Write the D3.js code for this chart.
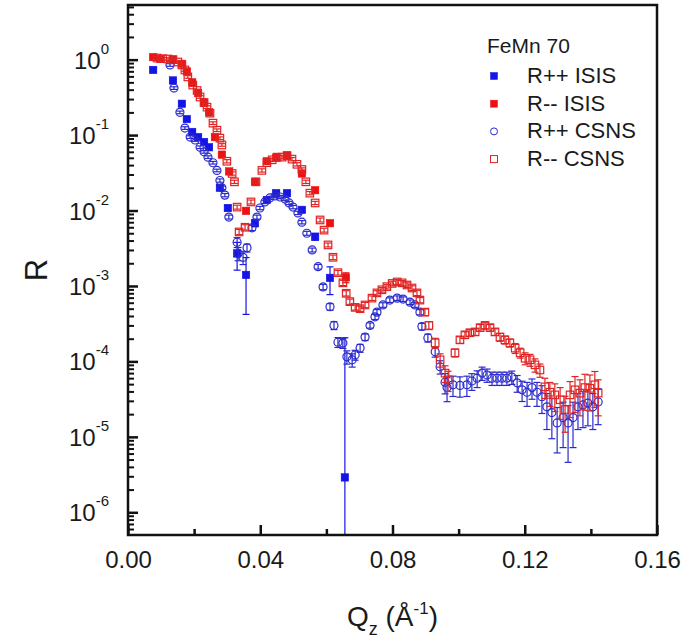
<!DOCTYPE html>
<html>
<head>
<meta charset="utf-8">
<script src="https://cdn.jsdelivr.net/npm/d3@7"></script>
<style>
  html, body { margin: 0; padding: 0; background: #fff; }
  svg text { font-family: "Liberation Sans", Arial, sans-serif; fill: #1a1a1a; }
</style>
</head>
<body>
<svg id="chart" width="694" height="641"></svg>
<script>
// axis limits and ticks
const xLimits = [0, 0.16];
const yLimits = [5.0e-7, 5.3];
const xMajorTicks = [0, 0.04, 0.08, 0.12, 0.16];
const xMinorTicks = [0.02, 0.06, 0.10, 0.14];
const yTickExponents = [0, -1, -2, -3, -4, -5, -6];

const legendTitle = 'FeMn 70';
const seriesNames = ['R++ ISIS', 'R-- ISIS', 'R++ CSNS', 'R-- CSNS'];

// [Qz, R, relative error]
const rppIsis = [
  [.0076,.73,.05],[.0136,.53,.04],[.0163,.26,.04],[.0178,.163,.04],[.0194,.11,.04],[.0212,.094,.04],
  [.0230,.081,.04],[.0245,.069,.05],[.0278,.020,.06],[.0302,.0108,.08],[.0330,.0027,.4],[.0357,.0014,.7],
  [.0384,.0068,.1],[.0420,.0138,.06],[.0448,.017,.05],[.0481,.017,.05],[.0526,.0102,.06],[.0566,.0045,.1],
  [.0611,.00128,.4],[.0656,.0000029,70]
];

const rmmIsis = [
  [.0076,1.08,.04],[.0097,1.02,.04],[.0136,1.0,.04],[.0163,.88,.04],[.0178,.70,.04],[.0194,.50,.04],
  [.0212,.36,.04],[.0230,.27,.04],[.0245,.20,.04],[.0263,.094,.04],[.0284,.055,.05],[.0306,.033,.05],
  [.0357,.0099,.08],[.0384,.024,.06],[.0420,.045,.05],[.0448,.050,.05],[.0481,.054,.05],[.0526,.031,.05],
  [.0566,.0186,.06],[.0611,.0068,.08],[.0659,.0013,.15]
];

const rppCsns = [
  [.0127,.85,.04],[.0139,.42,.04],[.0157,.20,.04],[.0172,.124,.04],[.0188,.094,.04],[.0203,.086,.04],
  [.0218,.069,.04],[.0230,.060,.04],[.0242,.051,.04],[.0257,.043,.04],[.0269,.034,.04],[.0278,.025,.05],
  [.0284,.020,.05],[.0293,.016,.05],[.0305,.0082,.06],[.0330,.0038,.15],[.0333,.0027,.2],[.0348,.0024,.2],
  [.0360,.0032,.12],[.0375,.0059,.08],[.0390,.0082,.06],[.0399,.0108,.05],[.0414,.013,.05],[.0429,.0147,.05],
  [.0445,.0156,.05],[.0460,.0151,.05],[.0475,.0142,.05],[.0487,.0126,.05],[.0499,.0111,.05],[.0514,.0093,.05],
  [.0526,.0070,.05],[.0541,.0050,.06],[.0557,.0030,.06],[.0575,.0018,.07],[.0590,.00097,.08],[.0611,.00053,.1],
  [.0623,.00030,.12],[.0635,.00018,.15],[.0650,.000175,.15],[.0662,.000115,.2],[.0678,.000105,.2],[.0687,.000122,.15],
  [.0702,.00015,.12],[.0717,.00021,.1],[.0732,.00030,.08],[.0747,.00039,.08],[.0753,.00045,.08],[.0771,.00056,.07],
  [.0792,.00065,.07],[.0814,.00069,.07],[.0832,.00067,.07],[.0853,.00061,.07],[.0868,.00056,.07],[.0883,.00045,.08],
  [.0889,.00029,.1],[.0907,.000205,.12],[.0929,.000134,.15],[.0944,.000085,.2],[.0959,.000053,.3],[.0965,.000045,.35],
  [.0983,.000049,.3],[.1004,.000048,.3],[.1025,.000049,.3],[.1040,.000055,.25],[.1056,.000060,.25],[.1071,.000070,.2],
  [.1086,.000066,.2],[.1101,.000060,.2],[.1116,.000060,.2],[.1131,.000060,.2],[.1146,.000060,.2],[.1161,.000062,.2],
  [.1177,.000052,.25],[.1192,.000042,.3],[.1207,.000039,.35],[.1222,.000045,.3],[.1237,.000039,.35],[.1252,.000034,.4],
  [.1267,.000025,.5],[.1282,.000021,.55],[.1298,.0000153,.6],[.1316,.000018,.6],[.1331,.0000153,.7],[.1346,.000018,.6],
  [.1361,.000025,.5],[.1376,.0000265,.5],[.1391,.000028,.5],[.1406,.000025,.5],[.1422,.000029,.5]
];

const rmmCsns = [
  [.0088,1.05,.04],[.0105,1.03,.04],[.0121,1.02,.04],[.0136,1.0,.04],[.0151,.93,.04],[.0163,.85,.04],
  [.0172,.73,.04],[.0181,.59,.04],[.0196,.46,.04],[.0209,.39,.04],[.0218,.32,.04],[.0230,.27,.04],
  [.0239,.235,.04],[.0248,.195,.04],[.0257,.144,.04],[.0269,.116,.04],[.0278,.091,.04],[.0284,.074,.04],
  [.0299,.045,.05],[.0315,.031,.05],[.0322,.024,.05],[.0330,.0111,.06],[.0336,.0052,.08],[.0354,.0060,.08],
  [.0372,.013,.06],[.0387,.024,.05],[.0405,.034,.05],[.0420,.043,.05],[.0436,.047,.05],[.0451,.051,.05],
  [.0466,.051,.05],[.0481,.053,.05],[.0496,.048,.05],[.0511,.041,.05],[.0526,.035,.05],[.0538,.024,.05],
  [.0550,.017,.05],[.0566,.0126,.05],[.0581,.0075,.06],[.0593,.0055,.06],[.0605,.0035,.06],[.0620,.0024,.07],
  [.0635,.0015,.07],[.0650,.0011,.08],[.0660,.0008,.08],[.0671,.00062,.08],[.0687,.00052,.08],[.0702,.00050,.08],
  [.0717,.00056,.08],[.0738,.00069,.07],[.0753,.00081,.07],[.0768,.00089,.07],[.0783,.00098,.07],[.0799,.00108,.07],
  [.0814,.00113,.07],[.0829,.00110,.07],[.0844,.00103,.07],[.0859,.00094,.07],[.0874,.00081,.08],[.0883,.00065,.08],
  [.0898,.00045,.1],[.0910,.00030,.12],[.0929,.000176,.15],[.0944,.000105,.2],[.0959,.000070,.25],[.0968,.000057,.3],
  [.0989,.00013,.12],[.1004,.000193,.1],[.1019,.000225,.1],[.1034,.00024,.1],[.1050,.000246,.1],[.1065,.00028,.1],
  [.1080,.00030,.1],[.1095,.00028,.1],[.1110,.000246,.1],[.1125,.00021,.12],[.1140,.000193,.12],[.1155,.000176,.12],
  [.1171,.00015,.15],[.1186,.00013,.15],[.1201,.00011,.18],[.1216,.000105,.18],[.1231,.00009,.2],[.1246,.000077,.2],
  [.1261,.000046,.3],[.1276,.000039,.35],[.1291,.000036,.4],[.1307,.000031,.45],[.1322,.000023,.5],[.1337,.000036,.5],
  [.1352,.000042,.5],[.1367,.000038,.5],[.1382,.000045,.5],[.1397,.000044,.5],[.1412,.000049,.5],[.1422,.000038,.5]
];

const BLUE = '#1414e6';
const BLUE_OPEN = '#2a2acc';
const RED = '#ee1111';
const RED_OPEN = '#e02424';

// plot region
const margin = { left: 128, top: 5, right: 37, bottom: 106 };
const width = 694 - margin.left - margin.right;
const height = 641 - margin.top - margin.bottom;

const svg = d3.select('#chart');

const chart = svg.append('g')
    .attr('transform', `translate(${margin.left}, ${margin.top})`);

const xScale = d3.scaleLinear().domain(xLimits).range([0, width]);
const yScale = d3.scaleLog().domain(yLimits).range([height, 0]);

chart.append('clipPath').attr('id', 'plotclip')
  .append('rect').attr('width', width).attr('height', height);

// x axis, ticks pointing inwards
const xAxis = chart.append('g')
    .attr('transform', `translate(0, ${height})`)
    .call(d3.axisBottom(xScale).tickValues(xMajorTicks).tickSize(-10).tickPadding(16).tickFormat(d3.format('.2f')));
xAxis.select('.domain').remove();
xAxis.selectAll('line').attr('stroke', '#111').attr('stroke-width', 2.5);
xAxis.selectAll('text').attr('font-size', 24).attr('font-family', '"Liberation Sans", Arial, sans-serif');

const xMinor = chart.append('g')
    .attr('transform', `translate(0, ${height})`)
    .call(d3.axisBottom(xScale).tickValues(xMinorTicks).tickSize(-6).tickFormat(''));
xMinor.select('.domain').remove();
xMinor.selectAll('line').attr('stroke', '#111').attr('stroke-width', 2.5);

// y axis (log)
const yMajorTicks = yTickExponents.map(e => Math.pow(10, e));
const yMinorTicks = [];
for (let e = -7; e <= 0; e++) {
  for (let m = 2; m <= 9; m++) {
    const v = m * Math.pow(10, e);
    if (v > yLimits[0] && v < yLimits[1]) yMinorTicks.push(v);
  }
}

const yAxis = chart.append('g')
    .call(d3.axisLeft(yScale).tickValues(yMajorTicks).tickSize(-10).tickFormat(''));
yAxis.select('.domain').remove();
yAxis.selectAll('line').attr('stroke', '#111').attr('stroke-width', 2.5);

const yMinor = chart.append('g')
    .call(d3.axisLeft(yScale).tickValues(yMinorTicks).tickSize(-6).tickFormat(''));
yMinor.select('.domain').remove();
yMinor.selectAll('line').attr('stroke', '#111').attr('stroke-width', 2);

// y tick labels 10^n
chart.append('g').selectAll('text')
    .data(yTickExponents)
    .enter()
    .append('text')
    .attr('x', -19)
    .attr('y', e => yScale(Math.pow(10, e)) + 9)
    .attr('text-anchor', 'end')
    .attr('font-size', 24)
    .each(function (e) {
      const t = d3.select(this);
      t.append('tspan').text('10');
      t.append('tspan').attr('font-size', 15).attr('dy', -15).text(e);
    });

// data series
const plot = chart.append('g').attr('clip-path', 'url(#plotclip)');

function errLow(d) {
  const v = d[1] * (1 - d[2]);
  return v > 0 ? yScale(v) : height + 20;
}
function errHigh(d) { return yScale(d[1] * (1 + d[2])); }

function drawSeries(data, color, shape, filled) {
  const g = plot.append('g');
  const cap = 3.5;
  g.selectAll('line.bar').data(data).enter().append('line')
    .attr('x1', d => xScale(d[0])).attr('x2', d => xScale(d[0]))
    .attr('y1', errLow).attr('y2', errHigh)
    .attr('stroke', color).attr('stroke-width', 1.2);
  g.selectAll('line.capl').data(data).enter().append('line')
    .attr('x1', d => xScale(d[0]) - cap).attr('x2', d => xScale(d[0]) + cap)
    .attr('y1', errLow).attr('y2', errLow)
    .attr('stroke', color).attr('stroke-width', 1.2);
  g.selectAll('line.caph').data(data).enter().append('line')
    .attr('x1', d => xScale(d[0]) - cap).attr('x2', d => xScale(d[0]) + cap)
    .attr('y1', errHigh).attr('y2', errHigh)
    .attr('stroke', color).attr('stroke-width', 1.2);
  if (shape === 'circle') {
    g.selectAll('circle').data(data).enter().append('circle')
      .attr('cx', d => xScale(d[0])).attr('cy', d => yScale(d[1]))
      .attr('r', 4)
      .attr('fill', filled ? color : 'none')
      .attr('stroke', color).attr('stroke-width', 1.2);
  } else {
    const s = filled ? 7.5 : 7.5;
    g.selectAll('rect').data(data).enter().append('rect')
      .attr('x', d => xScale(d[0]) - s / 2).attr('y', d => yScale(d[1]) - s / 2)
      .attr('width', s).attr('height', s)
      .attr('fill', filled ? color : 'none')
      .attr('stroke', color).attr('stroke-width', filled ? 0.5 : 1.2);
  }
}

drawSeries(rppIsis, BLUE, 'square', true);
drawSeries(rmmIsis, RED, 'square', true);
drawSeries(rppCsns, BLUE_OPEN, 'circle', false);
drawSeries(rmmCsns, RED_OPEN, 'square', false);

// frame
chart.append('rect')
    .attr('width', width)
    .attr('height', height)
    .attr('fill', 'none')
    .attr('stroke', '#111')
    .attr('stroke-width', 2.5);

// legend
const legend = svg.append('g');
legend.append('text')
    .attr('x', 487).attr('y', 53)
    .attr('font-size', 21)
    .text(legendTitle);

const legendStyles = [
  { color: BLUE, shape: 'square', filled: true },
  { color: RED, shape: 'square', filled: true },
  { color: BLUE_OPEN, shape: 'circle', filled: false },
  { color: RED_OPEN, shape: 'square', filled: false }
];

seriesNames.forEach((name, i) => {
  const y = 83 + i * 27.7;
  const st = legendStyles[i];
  if (st.shape === 'circle') {
    legend.append('circle').attr('cx', 494).attr('cy', y - 7).attr('r', 3.5)
      .attr('fill', 'none').attr('stroke', st.color).attr('stroke-width', 1);
  } else {
    legend.append('rect').attr('x', 494 - 3.5).attr('y', y - 10.5)
      .attr('width', 7).attr('height', 7)
      .attr('fill', st.filled ? st.color : 'none')
      .attr('stroke', st.color).attr('stroke-width', st.filled ? 0.5 : 1);
  }
  legend.append('text')
    .attr('x', 527).attr('y', y)
    .attr('font-size', 22)
    .text(name);
});

// axis titles
svg.append('text')
    .attr('transform', `translate(47, ${margin.top + height / 2}) rotate(-90)`)
    .attr('text-anchor', 'middle')
    .attr('font-size', 31)
    .text('R');

const xTitle = svg.append('text')
    .attr('x', margin.left + width / 2)
    .attr('y', 626)
    .attr('text-anchor', 'middle')
    .attr('font-size', 28);
xTitle.append('tspan').text('Q');
xTitle.append('tspan').attr('font-size', 18).attr('dy', 9).text('z');
xTitle.append('tspan').attr('dy', -9).text(' (Å');
xTitle.append('tspan').attr('font-size', 17).attr('dy', -12).text('-1');
xTitle.append('tspan').attr('dy', 12).text(')');
</script>
</body>
</html>
